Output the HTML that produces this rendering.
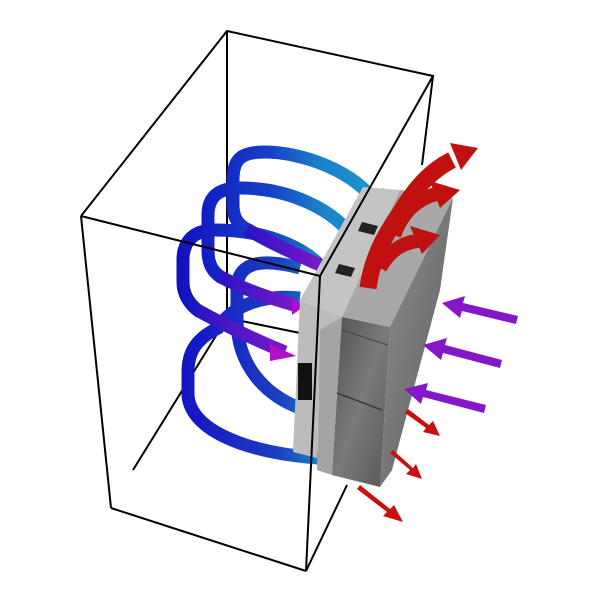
<!DOCTYPE html>
<html><head><meta charset="utf-8"><style>html,body{margin:0;padding:0;background:#fff}svg{display:block}</style></head>
<body>
<svg width="600" height="600" viewBox="0 0 600 600">
<defs>
<linearGradient id="lgA" gradientUnits="userSpaceOnUse" x1="180" y1="0" x2="380" y2="0">
<stop offset="0" stop-color="#1212c0"/><stop offset="0.45" stop-color="#1640c8"/><stop offset="0.7" stop-color="#1a80c8"/><stop offset="1" stop-color="#1a9ad0"/></linearGradient>
<linearGradient id="lgP" x1="0" y1="0" x2="1" y2="0">
<stop offset="0" stop-color="#2a14c4"/><stop offset="1" stop-color="#7a18c8"/></linearGradient>
<linearGradient id="lgB" gradientUnits="userSpaceOnUse" x1="185" y1="0" x2="320" y2="0">
<stop offset="0" stop-color="#1414c4"/><stop offset="0.7" stop-color="#1a40c0"/><stop offset="1" stop-color="#1a80c8"/></linearGradient>
<linearGradient id="frontg" x1="0" y1="0" x2="1" y2="1"><stop offset="0" stop-color="#505050"/><stop offset="0.5" stop-color="#7a7a7a"/><stop offset="1" stop-color="#555"/></linearGradient>
<linearGradient id="sideg" x1="0" y1="0" x2="1" y2="1"><stop offset="0" stop-color="#8e8e8e"/><stop offset="1" stop-color="#5e5e5e"/></linearGradient>
</defs>
<g stroke="#000" stroke-width="2" fill="none">
<line x1="227" y1="31" x2="227" y2="318"/>
<line x1="227" y1="318" x2="133" y2="470"/>
<line x1="227" y1="318" x2="300" y2="333"/>
<line x1="433" y1="76" x2="422" y2="165"/>
</g>
<g fill="none" stroke-width="13">
<path d="M300,298 C262,294 232,306 218,328 C198,338 188,350 188,372 L188,395 C190,428 240,452 318,458" stroke="url(#lgB)"/>
<path d="M300,268 C262,258 240,262 237,285 L237,320 C237,365 265,395 300,408" stroke="url(#lgB)"/>
<path d="M333,282 C315,250 270,230 215,230 C190,230 183,245 183,260 L183,282 C183,295 190,305 200,312" stroke="url(#lgA)"/>
<path d="M197,310 C230,328 260,342 285,352" stroke="url(#lgP)"/>
<path d="M355,240 C335,210 290,188 240,188 C215,188 208,200 208,215 L208,250 C208,265 213,272 222,278" stroke="url(#lgA)"/>
<path d="M219,276 C245,290 270,298 294,305" stroke="url(#lgP)"/>
<path d="M377,205 C355,170 300,152 265,152 C240,152 233,160 233,180 L233,205 C233,220 240,226 250,231" stroke="url(#lgA)"/>
<path d="M247,229 C265,240 290,252 320,265" stroke="url(#lgP)"/>
</g>
<g fill="#18c8cc">
<path d="M366,196 L384,188 L389,207 L372,212Z"/><path d="M344,232 L361,224 L366,243 L350,248Z"/><path d="M322,275 L339,268 L344,286 L328,291Z"/></g>
<g fill="#b010c8">
<path d="M292,298 L305,306 L292,315Z"/><path d="M270,344 L296,356 L270,361Z"/></g>
<g>
<polygon points="300,300 363,187 400,190 342,317" fill="#c4c4c4"/>
<polygon points="342,317 400,190 453,198 390,327" fill="#a8a8a8"/>
<polygon points="300,300 342,317 320,332 317,458 293,452" fill="#bcbcbc"/>
<polygon points="320,330 342,317 332,475 317,470" fill="#a4a4a4"/>
<polygon points="390,327 453,198 440,290 392,470 380,487" fill="url(#sideg)"/>
<polygon points="342,317 390,327 380,487 332,475" fill="url(#frontg)"/>
<line x1="337" y1="393" x2="382" y2="410" stroke="#3a3a3a" stroke-width="1.5"/>
<line x1="342" y1="330" x2="388" y2="345" stroke="#444" stroke-width="1"/>
<rect x="298" y="363" width="14" height="37" fill="#111"/>
<polygon points="362,222 378,226 374,235 358,231" fill="#222"/>
<polygon points="339,264 355,268 351,277 335,273" fill="#222"/>
</g>
<g stroke="#000" stroke-width="2" fill="none">
<polyline points="81,216 227,31 433,76 320,276 81,216"/>
<line x1="81" y1="216" x2="111" y2="508"/>
<line x1="111" y1="508" x2="306" y2="571"/>
<line x1="320" y1="276" x2="306" y2="571"/>
<line x1="306" y1="571" x2="347" y2="485"/>
</g>
<g>
<path d="M368,288 C372,258 385,235 400,213 C412,193 428,172 452,160" fill="none" stroke="#c01010" stroke-width="17"/>
<path d="M394,235 C404,210 418,198 440,193" fill="none" stroke="#c01010" stroke-width="14"/>
<path d="M380,268 C390,250 403,242 423,240" fill="none" stroke="#c01010" stroke-width="14"/>
<polygon points="450,143 478,148 461,170" fill="#c01010"/>
<polygon points="430,181 460,190 440,208" fill="#c01010"/>
<polygon points="410,226 440,235 422,254" fill="#c01010"/>
</g>
<g fill="#8418c8">
<path d="M518,316 L463,303 L465,296 L442,303 L460,318 L462,311 L516,324Z"/>
<path d="M502,360 L445,345 L447,338 L423,345 L441,360 L443,353 L500,368Z"/>
<path d="M486,405 L426,390 L428,383 L404,389 L421,404 L423,397 L484,413Z"/>
</g>
<g fill="#c81010">
<path d="M405,413 L426,428 L423,432 L440,436 L433,421 L429,425 L408,409Z"/>
<path d="M390,453 L410,470 L406,474 L422,479 L416,464 L413,468 L393,450Z"/>
<path d="M357,489 L387,512 L383,516 L403,522 L394,505 L390,509 L360,485Z"/>
</g>
</svg>
</body></html>
